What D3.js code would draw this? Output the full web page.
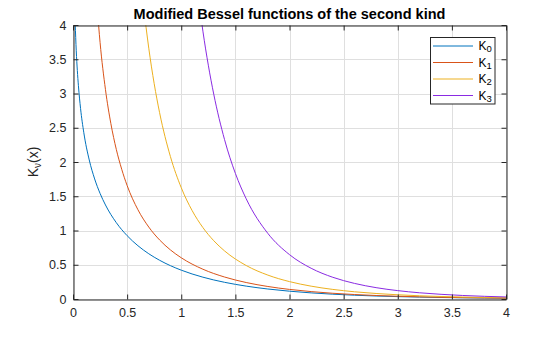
<!DOCTYPE html>
<html>
<head>
<meta charset="utf-8">
<script src="https://cdn.jsdelivr.net/npm/d3@7"></script>
<style>
  html, body { margin: 0; padding: 0; background: #fff; }
  svg { display: block; font-family: "Liberation Sans", Arial, sans-serif; }
</style>
</head>
<body>
<svg id="chart" width="560" height="337"></svg>
<script>
// Modified Bessel functions of the second kind, K_nu(x), sampled values
const x0 = [0.02, 0.03, 0.04, 0.05, 0.07, 0.1, 0.15, 0.2, 0.25, 0.3, 0.4, 0.5, 0.6, 0.7, 0.8, 0.9, 1.0, 1.2, 1.4, 1.6, 1.8, 2.0, 2.2, 2.4, 2.6, 2.8, 3.0, 3.2, 3.4, 3.6, 3.8, 4.0];
const k0 = [4.0285, 3.6235, 3.3365, 3.1142, 2.7798, 2.4271, 2.0300, 1.7527, 1.5415, 1.3725, 1.1145, 0.9244, 0.7775, 0.6605, 0.5653, 0.4867, 0.4210, 0.3185, 0.2437, 0.1880, 0.1459, 0.1139, 0.0893, 0.0702, 0.0554, 0.0438, 0.0347, 0.0276, 0.0220, 0.0175, 0.0140, 0.0112];

const x1 = [0.2, 0.25, 0.3, 0.35, 0.4, 0.45, 0.5, 0.6, 0.7, 0.8, 0.9, 1.0, 1.2, 1.4, 1.6, 1.8, 2.0, 2.2, 2.4, 2.6, 2.8, 3.0, 3.2, 3.4, 3.6, 3.8, 4.0];
const k1 = [4.7760, 3.7470, 3.0560, 2.5591, 2.1844, 1.8940, 1.6564, 1.3028, 1.0503, 0.8618, 0.7165, 0.6019, 0.4346, 0.3208, 0.2406, 0.1826, 0.1399, 0.1079, 0.0837, 0.0653, 0.0511, 0.0402, 0.0316, 0.0250, 0.0198, 0.0157, 0.0125];

const x2 = [0.6, 0.65, 0.7, 0.75, 0.8, 0.9, 1.0, 1.1, 1.2, 1.3, 1.4, 1.6, 1.8, 2.0, 2.2, 2.4, 2.6, 2.8, 3.0, 3.2, 3.4, 3.6, 3.8, 4.0];
const k2 = [5.1202, 4.3060, 3.6614, 3.1429, 2.7198, 2.0789, 1.6248, 1.2925, 1.0428, 0.8513, 0.7020, 0.4888, 0.3488, 0.2538, 0.1874, 0.1400, 0.1056, 0.0803, 0.0615, 0.0474, 0.0367, 0.0285, 0.0223, 0.0174];

const x3 = [1.1, 1.2, 1.25, 1.3, 1.4, 1.5, 1.6, 1.8, 2.0, 2.2, 2.4, 2.6, 2.8, 3.0, 3.2, 3.4, 3.6, 3.8, 4.0];
const k3 = [5.2100, 3.9106, 3.4132, 2.9919, 2.3265, 1.8339, 1.4626, 0.9577, 0.6475, 0.4486, 0.3170, 0.2278, 0.1658, 0.1222, 0.0909, 0.0682, 0.0515, 0.0392, 0.0299];

const seriesNames = ["0", "1", "2", "3"];
const seriesColors = ["#0072BD", "#D95319", "#EDB120", "#8A2BE2"];
const xTicks = [0, 0.5, 1, 1.5, 2, 2.5, 3, 3.5, 4];
const yTicks = [0, 0.5, 1, 1.5, 2, 2.5, 3, 3.5, 4];
const titleText = "Modified Bessel functions of the second kind";

const series = [[x0, k0], [x1, k1], [x2, k2], [x3, k3]].map(([xs, ys], i) => ({
  name: seriesNames[i],
  color: seriesColors[i],
  points: xs.map((x, j) => [x, ys[j]])
}));

const svg = d3.select("#chart");
const L = 73, R = 506, T = 25, B = 299;

const x = d3.scaleLinear().domain([0, 4]).range([L, R]);
const y = d3.scaleLinear().domain([0, 4]).range([B, T]);

// grid
const grid = svg.append("g").attr("stroke", "#dfdfdf").attr("stroke-width", 1);
xTicks.forEach(t => grid.append("line")
  .attr("x1", Math.round(x(t)) + 0.5).attr("x2", Math.round(x(t)) + 0.5)
  .attr("y1", T).attr("y2", B));
yTicks.forEach(t => grid.append("line")
  .attr("y1", Math.round(y(t)) + 0.5).attr("y2", Math.round(y(t)) + 0.5)
  .attr("x1", L).attr("x2", R));

// curves, clipped to the plot box
svg.append("clipPath").attr("id", "clip")
  .append("rect").attr("x", L).attr("y", T).attr("width", R - L).attr("height", B - T);

const line = d3.line().x(d => x(d[0])).y(d => y(d[1])).curve(d3.curveMonotoneX);
svg.append("g").attr("clip-path", "url(#clip)")
  .selectAll("path").data(series).join("path")
  .attr("fill", "none")
  .attr("stroke", d => d.color)
  .attr("stroke-width", 1)
  .attr("d", d => line(d.points));

// axes (ticks pointing inward, box on all sides)
const fmt = t => String(t);
const axB = svg.append("g").attr("transform", `translate(0,${B + 0.5})`)
  .call(d3.axisBottom(x).tickValues(xTicks).tickFormat(fmt).tickSizeInner(-5).tickSizeOuter(0).tickPadding(9));
const axL = svg.append("g").attr("transform", `translate(${L + 0.5},0)`)
  .call(d3.axisLeft(y).tickValues(yTicks).tickFormat(fmt).tickSizeInner(-5).tickSizeOuter(0).tickPadding(7));
const axT = svg.append("g").attr("transform", `translate(0,${T + 0.5})`)
  .call(d3.axisTop(x).tickValues(xTicks).tickFormat("").tickSizeInner(-5).tickSizeOuter(0));
const axR = svg.append("g").attr("transform", `translate(${R + 0.5},0)`)
  .call(d3.axisRight(y).tickValues(yTicks).tickFormat("").tickSizeInner(-5).tickSizeOuter(0));

[axB, axL, axT, axR].forEach(a => {
  a.select(".domain").attr("stroke", "#262626");
  a.selectAll(".tick line").attr("stroke", "#262626");
  a.selectAll(".tick text").attr("fill", "#262626").attr("font-size", 12.5)
    .attr("font-family", "Liberation Sans, Arial, sans-serif");
});
axB.selectAll(".tick text").attr("dy", "0.71em");

// title
svg.append("text")
  .attr("x", (L + R) / 2).attr("y", 19)
  .attr("text-anchor", "middle")
  .attr("font-size", 14.5).attr("font-weight", "bold").attr("fill", "#000")
  .text(titleText);

// y label K_nu(x)
const yl = svg.append("text")
  .attr("transform", `translate(38,${(T + B) / 2}) rotate(-90)`)
  .attr("text-anchor", "middle")
  .attr("font-size", 14).attr("fill", "#262626");
yl.append("tspan").text("K");
yl.append("tspan").attr("font-size", 10).attr("dy", 3).text("ν");
yl.append("tspan").attr("dy", -3).text("(x)");

// legend
const lg = svg.append("g").attr("transform", "translate(430.5,37.5)");
lg.append("rect").attr("x", 0).attr("y", 0).attr("width", 64.5).attr("height", 66.5)
  .attr("fill", "#fff").attr("stroke", "#262626").attr("stroke-width", 1);
series.forEach((s, i) => {
  const yy = 8.5 + i * 16.5;
  lg.append("line").attr("x1", 2.5).attr("x2", 42.5).attr("y1", yy).attr("y2", yy)
    .attr("stroke", s.color).attr("stroke-width", 1);
  const t = lg.append("text").attr("x", 48).attr("y", yy + 4)
    .attr("font-size", 12).attr("fill", "#000");
  t.append("tspan").text("K");
  t.append("tspan").attr("font-size", 9.5).attr("dy", 2).text(s.name);
});
</script>
</body>
</html>
